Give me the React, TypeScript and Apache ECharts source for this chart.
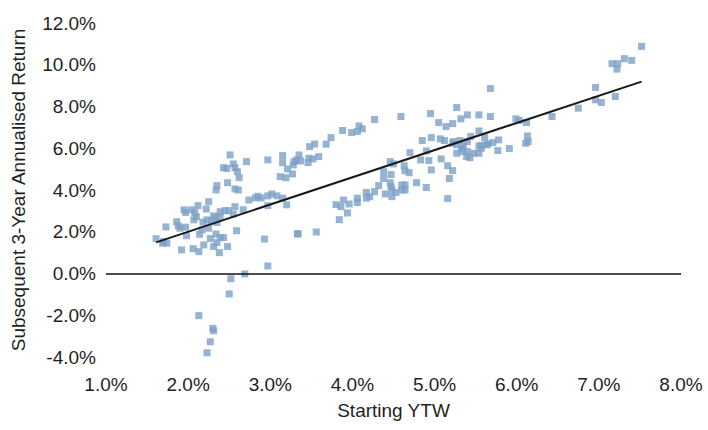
import React, { useEffect, useRef } from "react";
import * as echarts from "echarts";

// Starting YTW (%) and subsequent 3-year annualised return (%) for each observation
const startingYTW: number[] = [
  2.51, 3.15, 2.97, 2.71, 2.43, 2.47, 2.55, 2.57, 2.60, 2.62,
  3.15, 3.28, 3.32, 3.35, 3.21, 3.27, 3.12, 3.19, 2.48, 2.35,
  2.34, 2.57, 2.61, 2.74, 2.82, 2.85, 2.89, 2.97, 3.02, 3.08,
  3.15, 3.20, 2.97, 2.25, 2.12, 1.95, 1.97, 2.04, 2.08, 2.10,
  2.22, 2.07, 1.86, 1.88, 1.97, 1.73, 2.17, 2.25, 2.23, 2.18,
  2.31, 2.35, 2.39, 2.45, 2.49, 2.57, 2.55, 2.67, 2.39, 1.61,
  1.70, 1.74, 1.98, 2.14, 2.27, 2.34, 2.39, 2.43, 2.35, 2.59,
  1.92, 2.06, 2.13, 2.19, 2.31, 2.38, 2.48, 2.93, 3.33, 2.97,
  2.52, 2.69, 2.50, 2.13, 2.30, 2.31, 2.27, 2.23, 2.28, 2.33,
  1.90, 1.69, 3.29, 3.37, 3.46, 3.47, 3.52, 3.59, 3.48, 3.54,
  3.68, 3.74, 3.88, 3.99, 4.06, 4.08, 4.12, 4.27, 4.59, 4.95,
  5.05, 5.14, 5.22, 5.27, 5.32, 5.40, 5.54, 4.85, 4.96, 5.07,
  5.12, 5.23, 5.27, 5.31, 5.40, 5.44, 5.54, 5.33, 5.34, 5.27,
  5.40, 5.39, 5.43, 5.48, 5.54, 5.54, 4.70, 4.90, 4.83, 4.93,
  5.08, 5.16, 5.22, 5.18, 4.96, 4.78, 4.90, 5.16, 4.46, 4.50,
  4.63, 4.64, 4.69, 4.38, 4.47, 4.38, 4.46, 4.47, 4.48, 4.48,
  4.53, 4.60, 4.64, 4.60, 4.64, 4.32, 4.27, 4.21, 4.17, 4.17,
  4.06, 4.06, 4.40, 3.96, 3.89, 3.86, 3.80, 3.94, 3.84, 3.34,
  3.56, 5.22, 5.35, 5.57, 7.52, 7.31, 7.40, 7.16, 7.23, 7.22,
  6.96, 6.96, 7.03, 7.20, 6.75, 6.43, 5.68, 5.99, 6.03, 6.12,
  6.13, 6.14, 6.11, 5.91, 5.78, 5.71, 5.63, 5.77, 5.68, 5.61,
  5.57, 5.65,
];

const subsequentReturn: number[] = [
  5.68, 5.65, 5.44, 5.36, 5.07, 5.03, 5.25, 5.07, 4.88, 4.59,
  5.31, 5.20, 5.44, 5.68, 5.01, 4.77, 4.64, 4.59, 4.35, 4.21,
  4.00, 4.05, 4.00, 3.52, 3.62, 3.70, 3.62, 3.72, 3.81, 3.72,
  3.61, 3.29, 3.25, 3.44, 3.25, 3.05, 2.92, 3.05, 2.92, 2.72,
  3.09, 2.57, 2.48, 2.28, 2.22, 2.23, 2.09, 2.17, 2.57, 2.46,
  2.76, 2.44, 2.96, 3.01, 3.01, 3.20, 2.85, 3.05, 2.72, 1.67,
  1.53, 1.45, 1.81, 1.88, 1.67, 1.89, 1.72, 1.72, 1.48, 2.05,
  1.13, 1.19, 1.05, 1.37, 1.29, 1.00, 1.29, 1.65, 1.89, 0.36,
  -0.25, -0.02, -0.98, -2.02, -2.63, -2.74, -3.27, -3.80, 2.52, 2.65,
  2.17, 1.45, 5.36, 5.39, 5.31, 5.52, 5.49, 5.60, 6.08, 6.20,
  6.20, 6.51, 6.85, 6.75, 6.80, 7.07, 6.93, 7.38, 7.52, 7.66,
  7.23, 7.04, 7.18, 7.95, 7.41, 7.60, 7.60, 6.37, 6.51, 6.45,
  6.37, 6.32, 6.16, 6.37, 6.32, 6.56, 6.83, 6.00, 5.84, 5.76,
  5.84, 5.60, 5.55, 5.76, 5.76, 6.11, 5.79, 5.87, 5.44, 5.41,
  5.49, 5.16, 4.93, 4.55, 4.96, 4.35, 4.12, 3.59, 5.36, 5.25,
  5.16, 4.92, 4.83, 4.88, 4.74, 4.55, 4.35, 4.16, 4.00, 3.68,
  3.88, 4.24, 4.24, 4.00, 4.00, 4.21, 3.92, 3.68, 3.88, 3.61,
  3.61, 3.40, 3.81, 3.33, 3.52, 3.20, 3.30, 2.90, 2.58, 1.91,
  1.99, 6.24, 6.11, 6.13, 10.88, 10.29, 10.21, 10.05, 10.05, 9.79,
  8.91, 8.32, 8.19, 8.48, 7.92, 7.52, 8.86, 7.41, 7.33, 7.23,
  6.59, 6.32, 6.24, 5.99, 6.40, 6.27, 6.16, 5.89, 7.52, 6.51,
  6.00, 6.21,
];

const xAxisRange = { min: 1, max: 8, interval: 1 };
const yAxisRange = { min: -4, max: 12, interval: 2 };

const FONT = "'Liberation Sans', Arial, sans-serif";

function linearFit(xs: number[], ys: number[]) {
  const n = Math.min(xs.length, ys.length);
  let sx = 0, sy = 0, sxx = 0, sxy = 0;
  for (let i = 0; i < n; i++) {
    sx += xs[i]; sy += ys[i]; sxx += xs[i] * xs[i]; sxy += xs[i] * ys[i];
  }
  const slope = (n * sxy - sx * sy) / (n * sxx - sx * sx);
  const intercept = (sy - slope * sx) / n;
  return { slope, intercept };
}

export default function App() {
  const ref = useRef<HTMLDivElement>(null);

  useEffect(() => {
    if (!ref.current) return;
    const chart = echarts.init(ref.current, undefined, { renderer: "svg" });
    const n = Math.min(startingYTW.length, subsequentReturn.length);
    const points = [];
    for (let i = 0; i < n; i++) points.push([startingYTW[i], subsequentReturn[i]]);
    const { slope, intercept } = linearFit(startingYTW, subsequentReturn);
    const xMin = Math.min(...startingYTW);
    const xMax = Math.max(...startingYTW);
    const trend = [
      [xMin, intercept + slope * xMin],
      [xMax, intercept + slope * xMax],
    ];

    const labelStyle = { fontSize: 19, color: "#1f1f1f", fontFamily: FONT };

    chart.setOption({
      animation: false,
      backgroundColor: "#fff",
      grid: { left: 106, right: 27, top: 23, bottom: 73 },
      xAxis: {
        type: "value",
        ...xAxisRange,
        axisLine: { show: false },
        axisTick: { show: false },
        splitLine: { show: false },
        axisLabel: { ...labelStyle, margin: 18, formatter: (v: number) => v.toFixed(1) + "%" },
        name: "Starting YTW",
        nameLocation: "middle",
        nameGap: 44,
        nameTextStyle: { ...labelStyle },
      },
      yAxis: {
        type: "value",
        ...yAxisRange,
        axisLine: { show: false },
        axisTick: { show: false },
        splitLine: { show: false },
        axisLabel: { ...labelStyle, margin: 10, formatter: (v: number) => v.toFixed(1) + "%" },
        name: "Subsequent 3-Year Annualised Return",
        nameLocation: "middle",
        nameGap: 78,
        nameTextStyle: { ...labelStyle },
      },
      series: [
        {
          type: "scatter",
          data: points,
          symbol: "rect",
          symbolSize: 7,
          itemStyle: { color: "#7DA0C7" },
          markLine: {
            silent: true,
            symbol: ["none", "none"],
            label: { show: false },
            lineStyle: { color: "#111", width: 1.5, type: "solid" },
            data: [{ yAxis: 0 }],
          },
          z: 2,
        },
        {
          type: "line",
          data: trend,
          showSymbol: false,
          lineStyle: { color: "#1a1a1a", width: 2 },
          z: 3,
        },
      ],
    });
    return () => chart.dispose();
  }, []);

  return (
    <div
      ref={ref}
      style={{ position: "fixed", left: 0, top: 0, width: 708, height: 430, background: "#fff" }}
    />
  );
}
